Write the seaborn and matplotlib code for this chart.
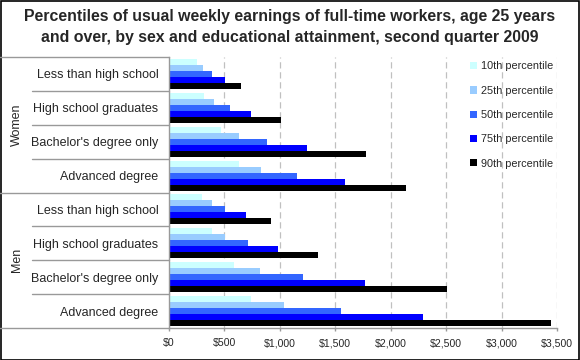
import pandas as pd
import seaborn as sns
import matplotlib.pyplot as plt
from matplotlib.lines import Line2D
from matplotlib.patches import Rectangle
from matplotlib.ticker import FuncFormatter, FixedLocator
import matplotlib.transforms as mtransforms

# data
sexes = ["Women", "Men"]
education = ["Less than high school", "High school graduates",
             "Bachelor's degree only", "Advanced degree"]
percentiles = ["10th percentile", "25th percentile", "50th percentile",
               "75th percentile", "90th percentile"]
women_p10 = [255, 318, 475, 634]
women_p25 = [309, 408, 634, 832]
women_p50 = [390, 553, 886, 1157]
women_p75 = [508, 742, 1246, 1589]
women_p90 = [652, 1012, 1778, 2139]
men_p10 = [300, 390, 589, 742]
men_p25 = [390, 507, 823, 1039]
men_p50 = [507, 715, 1210, 1553]
men_p75 = [697, 985, 1769, 2292]
men_p90 = [922, 1346, 2508, 3445]
colors = ["#CCFFFF", "#99CCFF", "#3366FF", "#0000FF", "#000000"]

women = [women_p10, women_p25, women_p50, women_p75, women_p90]
men = [men_p10, men_p25, men_p50, men_p75, men_p90]

rows = []
for sex, series in zip(sexes, [women, men]):
    for p, vals in zip(percentiles, series):
        for ed, v in zip(education, vals):
            rows.append({"group": sex + " - " + ed, "pct": p, "value": v})
df = pd.DataFrame(rows)
order = [s + " - " + e for s in sexes for e in education]

sns.set_style("white")
plt.rcParams["font.family"] = ["Liberation Sans", "DejaVu Sans"]

fig = plt.figure(figsize=(5.8, 3.6), dpi=100)
W, H = 580, 360
x0, x1, y0, y1 = 168.67, 557, 57, 328
ax = fig.add_axes([x0 / W, 1 - y1 / H, (x1 - x0) / W, (y1 - y0) / H])

sns.barplot(data=df, y="group", x="value", hue="pct", order=order,
            hue_order=percentiles, palette=colors, orient="h",
            width=0.885, saturation=1, linewidth=0, ax=ax)

ax.set_xlim(0, 3500)
ax.set_ylim(7.5, -0.5)
ax.set_xticks(range(0, 3501, 500))
ax.xaxis.set_major_formatter(FuncFormatter(lambda v, _: "${:,.0f}".format(v)))
ax.set_yticks(range(8))
ax.set_yticklabels(education * 2)
ax.yaxis.set_minor_locator(FixedLocator([i - 0.5 for i in range(9)]))
ax.tick_params(axis="y", which="major", length=0, pad=7.5, labelsize=9)
ax.tick_params(axis="y", which="minor", direction="in", length=2.5,
               color="#999999", width=1)
ax.tick_params(axis="x", length=2.5, color="#999999", width=1, pad=5,
               labelsize=7.6, bottom=True)
ax.set_xlabel("")
ax.set_ylabel("")
ax.grid(axis="x", color="#c0c0c0", linestyle=(0, (5, 3)), linewidth=0.9)
ax.set_axisbelow(True)
for s in ["top", "right"]:
    ax.spines[s].set_visible(False)
for s in ["left", "bottom"]:
    ax.spines[s].set_color("#999999")
    ax.spines[s].set_linewidth(1)

# category separators on the left side
tr = mtransforms.blended_transform_factory(fig.transFigure, ax.transData)
for b in [i - 0.5 for i in range(9)]:
    start = 0 if b in (-0.5, 3.5, 7.5) else 32 / W
    fig.add_artist(Line2D([start, x0 / W], [b, b], transform=tr,
                          color="#999999", linewidth=1))
for sex, c in zip(sexes, [1.5, 5.5]):
    fig.text(17 / W, c, sex, transform=tr, rotation=90, ha="center",
             va="center", fontsize=9)

leg = ax.legend(loc="upper left", bbox_to_anchor=(465 / W, 1 - 56 / H),
                bbox_transform=fig.transFigure, frameon=False, fontsize=7.8,
                handlelength=0.65, handleheight=0.65, handletextpad=0.35,
                labelspacing=1.32, borderpad=0)

fig.text(0.5, 1 - 9 / H,
         "Percentiles of usual weekly earnings of full-time workers, age 25 years\n"
         "and over, by sex and educational attainment, second quarter 2009",
         ha="center", va="top", fontsize=11.45, fontweight="bold",
         linespacing=1.47)

fig.add_artist(Rectangle((0.5 / W, 0.5 / H), 1 - 1.5 / W, 1 - 1.5 / H,
                         transform=fig.transFigure, fill=False,
                         edgecolor="black", linewidth=1.2))

fig.savefig("out.png", dpi=100)
